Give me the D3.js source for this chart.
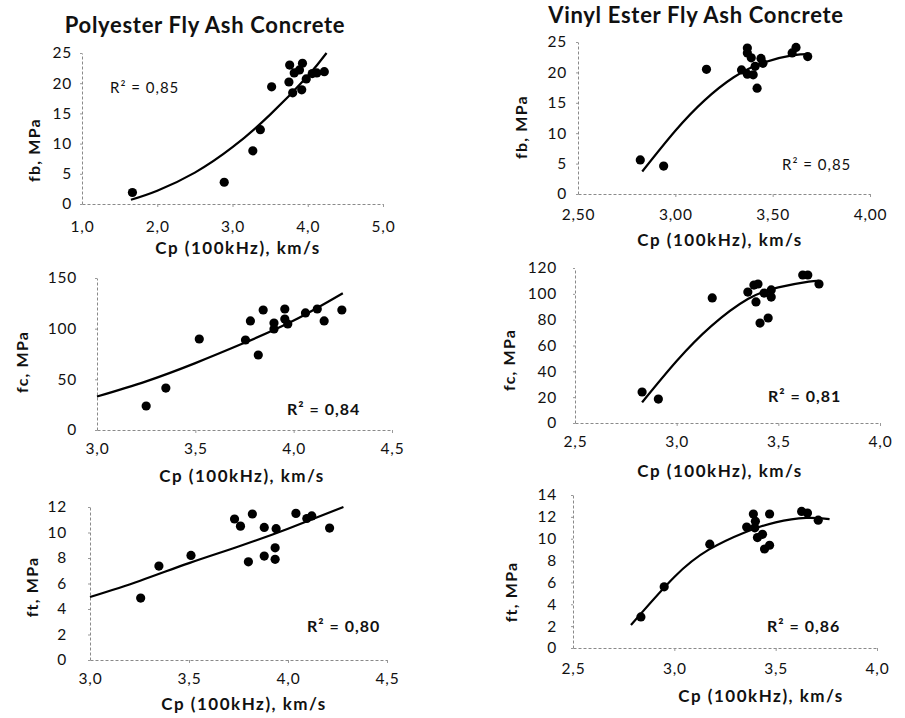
<!DOCTYPE html>
<html>
<head>
<meta charset="utf-8">
<script src="https://cdn.jsdelivr.net/npm/d3@7"></script>
<style>
  body { margin: 0; background: #fff; }
  svg { display: block; font-family: Lato, "Open Sans", sans-serif; }
  .tick text { fill: #111; }
</style>
</head>
<body>
<svg id="chart" width="905" height="718"></svg>
<script>
// Polyester, flexural strength fb
var polyFbCp = [1.67, 2.89, 3.27, 3.37, 3.52, 3.75, 3.76, 3.80, 3.82, 3.89, 3.92, 3.93, 3.98, 4.06, 4.12, 4.22];
var polyFb   = [1.9, 3.6, 8.8, 12.3, 19.4, 20.2, 23.0, 18.4, 21.7, 22.2, 18.9, 23.3, 20.7, 21.6, 21.7, 21.9];
var polyFbFitCp = [1.65, 2.0, 2.5, 3.0, 3.5, 4.0, 4.25];
var polyFbFit   = [0.7, 2.2, 5.2, 9.4, 14.8, 21.2, 25.0];

// Vinyl ester, flexural strength fb
var vinylFbCp = [2.82, 2.94, 3.16, 3.34, 3.37, 3.37, 3.37, 3.39, 3.40, 3.41, 3.42, 3.44, 3.45, 3.60, 3.62, 3.68];
var vinylFb   = [5.6, 4.6, 20.5, 20.4, 24.0, 23.2, 19.7, 22.4, 19.6, 21.0, 17.4, 22.3, 21.5, 23.2, 24.1, 22.6];
var vinylFbFitCp = [2.83, 3.0, 3.15, 3.3, 3.45, 3.6, 3.69];
var vinylFbFit   = [3.7, 10.4, 15.4, 19.2, 21.6, 22.8, 23.0];

// Polyester, compressive strength fc
var polyFcCp = [3.25, 3.35, 3.52, 3.755, 3.78, 3.82, 3.845, 3.90, 3.90, 3.955, 3.955, 3.97, 4.06, 4.12, 4.155, 4.245];
var polyFc   = [23.7, 41.4, 89.8, 88.8, 107.6, 74.0, 118.4, 105.6, 99.7, 119.4, 109.5, 104.6, 115.5, 119.4, 107.6, 118.4];
var polyFcFitCp = [3.0, 3.25, 3.5, 3.75, 4.0, 4.25];
var polyFcFit   = [33, 48, 66, 86, 108, 135];

// Vinyl ester, compressive strength fc
var vinylFcCp = [2.83, 2.91, 3.175, 3.35, 3.38, 3.39, 3.40, 3.41, 3.43, 3.45, 3.465, 3.465, 3.62, 3.645, 3.70];
var vinylFc   = [24.0, 18.5, 96.8, 101.4, 106.8, 93.7, 107.6, 77.4, 100.6, 81.3, 97.5, 103.0, 114.6, 114.6, 107.6];
var vinylFcFitCp = [2.83, 3.0, 3.17, 3.35, 3.5, 3.65, 3.7];
var vinylFcFit   = [16, 48, 75, 96, 105, 109.5, 110];

// Polyester, tensile strength ft
var polyFtCp = [3.256, 3.348, 3.51, 3.73, 3.76, 3.80, 3.82, 3.88, 3.88, 3.935, 3.935, 3.94, 4.04, 4.095, 4.12, 4.21];
var polyFt   = [4.86, 7.37, 8.2, 11.06, 10.5, 7.7, 11.45, 10.4, 8.15, 8.8, 7.9, 10.3, 11.5, 11.1, 11.3, 10.35];
var polyFtFitCp = [3.0, 3.25, 3.5, 3.75, 4.0, 4.28];
var polyFtFit   = [4.94, 6.2, 7.6, 8.9, 10.3, 12.0];

// Vinyl ester, tensile strength ft
var vinylFtCp = [2.835, 2.95, 3.175, 3.357, 3.39, 3.397, 3.40, 3.41, 3.435, 3.445, 3.47, 3.47, 3.628, 3.657, 3.71];
var vinylFt   = [2.84, 5.6, 9.5, 11.07, 12.26, 11.0, 11.6, 10.1, 10.4, 9.06, 9.4, 12.26, 12.5, 12.35, 11.7];
var vinylFtFitCp = [2.786, 3.0, 3.17, 3.35, 3.5, 3.65, 3.766];
var vinylFtFit   = [2.1, 6.5, 9.0, 10.6, 11.5, 11.9, 11.8];

var titles = ["Polyester Fly Ash Concrete", "Vinyl Ester Fly Ash Concrete"];
var yTitles = ["fb, MPa", "fb, MPa", "fc, MPa", "fc, MPa", "ft, MPa", "ft, MPa"];
var r2Labels = ["R\u00b2 = 0,85", "R\u00b2 = 0,85", "R\u00b2 = 0,84", "R\u00b2 = 0,81", "R\u00b2 = 0,80", "R\u00b2 = 0,86"];
var xTitle = "Cp (100kHz), km/s";

var xTicksPoly1 = [1, 2, 3, 4, 5];
var xTicksPoly = [3.0, 3.5, 4.0, 4.5];
var xTicksVinyl = [2.5, 3.0, 3.5, 4.0];
var yTicksFb = [0, 5, 10, 15, 20, 25];
var yTicksFcPoly = [0, 50, 100, 150];
var yTicksFcVinyl = [0, 20, 40, 60, 80, 100, 120];
var yTicksFtPoly = [0, 2, 4, 6, 8, 10, 12];
var yTicksFtVinyl = [0, 2, 4, 6, 8, 10, 12, 14];

var svg = d3.select("#chart");

svg.append("rect")
  .attr("width", 905)
  .attr("height", 718)
  .attr("fill", "#fff");

// layout of each panel in pixels
var panels = [
  {cp: polyFbCp, v: polyFb, fitCp: polyFbFitCp, fit: polyFbFit,
   xDom: [1, 5], xTicks: xTicksPoly1, xDec: 1, yTicks: yTicksFb,
   left: 82, right: 383, top: 53, bottom: 204, xPad: 14, yPad: 8,
   xtX: 238, xtY: 254, ytX: 40, ytY: 150, r2X: 110, r2Y: 93, r2W: "normal"},
  {cp: vinylFbCp, v: vinylFb, fitCp: vinylFbFitCp, fit: vinylFbFit,
   xDom: [2.5, 4.0], xTicks: xTicksVinyl, xDec: 2, yTicks: yTicksFb,
   left: 578, right: 870, top: 42, bottom: 194, xPad: 12, yPad: 9,
   xtX: 720, xtY: 246, ytX: 527, ytY: 127, r2X: 782, r2Y: 170, r2W: "normal"},
  {cp: polyFcCp, v: polyFc, fitCp: polyFcFitCp, fit: polyFcFit,
   xDom: [3.0, 4.5], xTicks: xTicksPoly, xDec: 1, yTicks: yTicksFcPoly,
   left: 97, right: 392, top: 278, bottom: 430, xPad: 10, yPad: 18,
   xtX: 242, xtY: 482, ytX: 28, ytY: 362, r2X: 287, r2Y: 415, r2W: "bold"},
  {cp: vinylFcCp, v: vinylFc, fitCp: vinylFcFitCp, fit: vinylFcFit,
   xDom: [2.5, 4.0], xTicks: xTicksVinyl, xDec: 1, yTicks: yTicksFcVinyl,
   left: 575, right: 880, top: 268, bottom: 423, xPad: 10, yPad: 16,
   xtX: 720, xtY: 477, ytX: 515, ytY: 360, r2X: 768, r2Y: 402, r2W: "bold"},
  {cp: polyFtCp, v: polyFt, fitCp: polyFtFitCp, fit: polyFtFit,
   xDom: [3.0, 4.5], xTicks: xTicksPoly, xDec: 1, yTicks: yTicksFtPoly,
   left: 90, right: 387, top: 507, bottom: 660, xPad: 10, yPad: 21,
   xtX: 244, xtY: 710, ytX: 38, ytY: 587, r2X: 307, r2Y: 632, r2W: "bold"},
  {cp: vinylFtCp, v: vinylFt, fitCp: vinylFtFitCp, fit: vinylFtFit,
   xDom: [2.5, 4.0], xTicks: xTicksVinyl, xDec: 1, yTicks: yTicksFtVinyl,
   left: 573, right: 877, top: 495, bottom: 648, xPad: 12, yPad: 14,
   xtX: 761, xtY: 702, ytX: 517, ytY: 592, r2X: 767, r2Y: 632, r2W: "bold"}
];

// column titles
svg.append("text")
  .attr("x", 205)
  .attr("y", 33)
  .attr("text-anchor", "middle")
  .attr("font-size", 22)
  .attr("font-weight", "bold")
  .attr("letter-spacing", 0.7)
  .attr("fill", "#111")
  .text(titles[0]);

svg.append("text")
  .attr("x", 696)
  .attr("y", 23)
  .attr("text-anchor", "middle")
  .attr("font-size", 22)
  .attr("font-weight", "bold")
  .attr("letter-spacing", 0.7)
  .attr("fill", "#111")
  .text(titles[1]);

function fmt(dec){
  return function(d){ return d3.format("." + dec + "f")(d).replace(".", ","); };
}

panels.forEach(function(p, i){
  var x = d3.scaleLinear().domain(p.xDom).range([p.left, p.right]);
  var y = d3.scaleLinear().domain([0, d3.max(p.yTicks)]).range([p.bottom, p.top]);

  var yAxis = svg.append("g")
    .attr("transform", "translate(" + p.left + ",0)")
    .call(d3.axisLeft(y).tickValues(p.yTicks).tickSize(2).tickSizeOuter(0).tickPadding(p.yPad));

  var xAxis = svg.append("g")
    .attr("transform", "translate(0," + p.bottom + ")")
    .call(d3.axisBottom(x).tickValues(p.xTicks).tickSize(3).tickSizeOuter(0).tickPadding(p.xPad).tickFormat(fmt(p.xDec)));

  [yAxis, xAxis].forEach(function(a){
    a.select(".domain")
      .attr("stroke", "#8a8a8a")
      .attr("stroke-dasharray", "3,2");
    a.selectAll(".tick line").attr("stroke", "#999");
    a.selectAll(".tick text")
      .attr("font-size", 15.5)
      .attr("letter-spacing", 0.8)
      .attr("font-family", "Lato, sans-serif");
  });
  // no tick line where the axes meet
  xAxis.selectAll(".tick line").filter(function(d){ return d == p.xDom[0]; }).remove();

  // trend line
  var fitPts = p.fitCp.map(function(c, j){ return [c, p.fit[j]]; });
  svg.append("path")
    .datum(fitPts)
    .attr("fill", "none")
    .attr("stroke", "#000")
    .attr("stroke-width", 2.2)
    .attr("d", d3.line()
      .x(function(d){ return x(d[0]); })
      .y(function(d){ return y(d[1]); })
      .curve(d3.curveNatural));

  // measured points
  svg.append("g")
    .selectAll("circle")
    .data(p.cp.map(function(c, j){ return [c, p.v[j]]; }))
    .enter()
    .append("circle")
      .attr("cx", function(d){ return x(d[0]); })
      .attr("cy", function(d){ return y(d[1]); })
      .attr("r", 4.6)
      .attr("fill", "#000");

  svg.append("text")
    .attr("x", p.r2X)
    .attr("y", p.r2Y)
    .attr("font-size", p.r2W == "bold" ? 16 : 15)
    .attr("font-weight", p.r2W)
    .attr("letter-spacing", 1)
    .attr("fill", "#111")
    .text(r2Labels[i]);

  svg.append("text")
    .attr("x", p.xtX)
    .attr("y", p.xtY)
    .attr("text-anchor", "middle")
    .attr("font-size", 17)
    .attr("font-weight", "bold")
    .attr("letter-spacing", 1.5)
    .attr("fill", "#111")
    .text(xTitle);

  svg.append("text")
    .attr("transform", "translate(" + p.ytX + "," + p.ytY + ")rotate(-90)")
    .attr("text-anchor", "middle")
    .attr("font-size", 16)
    .attr("font-weight", "bold")
    .attr("letter-spacing", 1.2)
    .attr("fill", "#111")
    .text(yTitles[i]);
});
</script>
</body>
</html>
